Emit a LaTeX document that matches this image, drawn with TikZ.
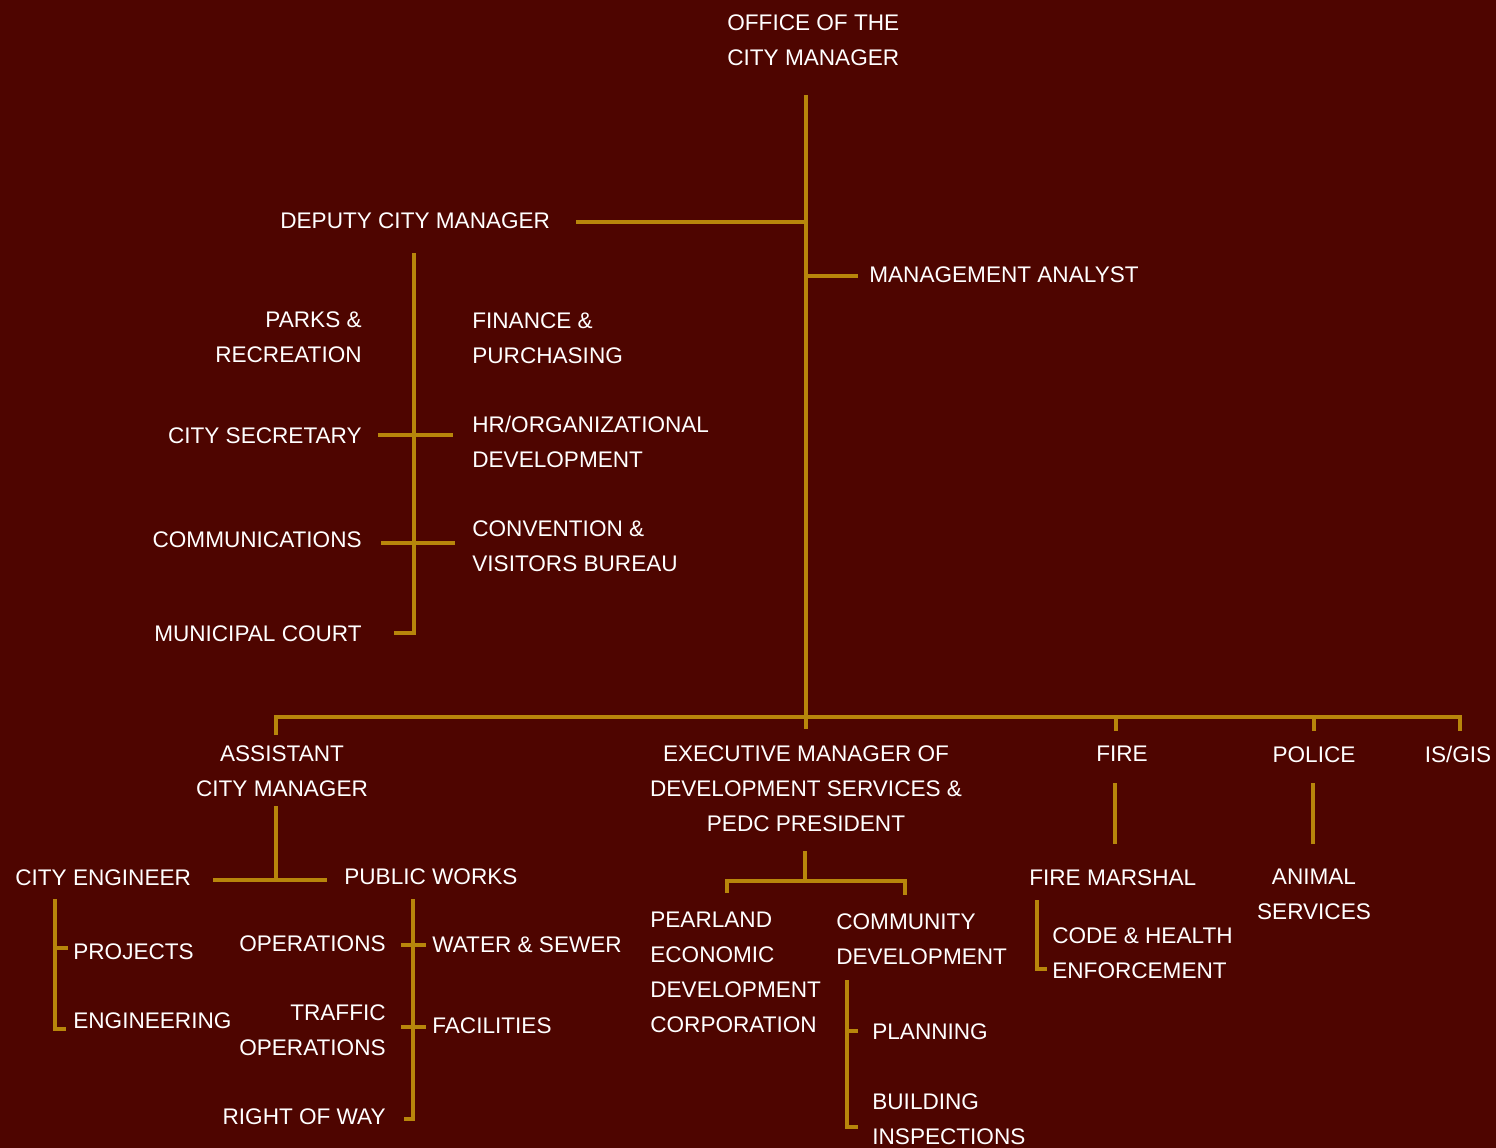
\documentclass[tikz,border=0pt]{standalone}
\usepackage{fontspec}
\setmainfont{Liberation Sans}
\definecolor{maroon}{RGB}{78,5,0}
\definecolor{gold}{RGB}{184,134,11}
\begin{document}
\begin{tikzpicture}[x=0.02cm,y=-0.02cm,
  unit/.style={text=white,font=\fontsize{12.85}{19.9}\selectfont,inner sep=0pt,align=left},
  link/.style={draw=gold,line width=2pt}]
\fill[maroon] (0,0) rectangle (1496,1148);
\useasboundingbox (0,0) rectangle (1496,1148);
\node[unit,anchor=north west] (cm) at (727,14) {OFFICE OF THE\\CITY MANAGER};
\node[unit,anchor=north west] (dcm) at (280,212) {DEPUTY CITY MANAGER};
\node[unit,anchor=north west] (ma) at (869,266) {MANAGEMENT ANALYST};
\node[unit,anchor=north east,align=right] (parks) at (362,311) {PARKS \&\\RECREATION};
\node[unit,anchor=north east,align=right] (csec) at (362,427) {CITY SECRETARY};
\node[unit,anchor=north east,align=right] (comm) at (362,531) {COMMUNICATIONS};
\node[unit,anchor=north east,align=right] (court) at (362,625) {MUNICIPAL COURT};
\node[unit,anchor=north west] (fin) at (472,312) {FINANCE \&\\PURCHASING};
\node[unit,anchor=north west] (hr) at (472,416) {HR/ORGANIZATIONAL\\DEVELOPMENT};
\node[unit,anchor=north west] (cvb) at (472,520) {CONVENTION \&\\VISITORS BUREAU};
\node[unit,anchor=north,align=center] (acm) at (282,745) {ASSISTANT\\CITY MANAGER};
\node[unit,anchor=north,align=center] (exec) at (806,745) {EXECUTIVE MANAGER OF\\DEVELOPMENT SERVICES \&\\PEDC PRESIDENT};
\node[unit,anchor=north] (fire) at (1122,746) {FIRE};
\node[unit,anchor=north] (police) at (1314,746) {POLICE};
\node[unit,anchor=north] (gis) at (1458,746) {IS/GIS};
\node[unit,anchor=north west] (marshal) at (1029,869) {FIRE MARSHAL};
\node[unit,anchor=north,align=center] (animal) at (1314,869) {ANIMAL\\SERVICES};
\node[unit,anchor=north west] (code) at (1052,927) {CODE \& HEALTH\\ENFORCEMENT};
\node[unit,anchor=north west] (ceng) at (15,869) {CITY ENGINEER};
\node[unit,anchor=north west] (pw) at (344,868) {PUBLIC WORKS};
\node[unit,anchor=north west] (proj) at (73,943) {PROJECTS};
\node[unit,anchor=north west] (eng) at (73,1012) {ENGINEERING};
\node[unit,anchor=north east,align=right] (ops) at (386,935) {OPERATIONS};
\node[unit,anchor=north east,align=right] (traffic) at (386,1004) {TRAFFIC\\OPERATIONS};
\node[unit,anchor=north east,align=right] (row) at (386,1108) {RIGHT OF WAY};
\node[unit,anchor=north west] (water) at (432,936) {WATER \& SEWER};
\node[unit,anchor=north west] (fac) at (432,1017) {FACILITIES};
\node[unit,anchor=north west] (pedc) at (650,912) {PEARLAND\\ECONOMIC\\DEVELOPMENT\\CORPORATION};
\node[unit,anchor=north west] (cd) at (836,913) {COMMUNITY\\DEVELOPMENT};
\node[unit,anchor=north west] (plan) at (872,1023) {PLANNING};
\node[unit,anchor=north west] (bld) at (872,1093) {BUILDING\\INSPECTIONS};
% city manager trunk and staff
\coordinate (trunktop) at (806,95);
\coordinate (trunkend) at (806,729);
\coordinate (dcmend) at (576,222);
\coordinate (dcmjoin) at (806,222);
\coordinate (majoin) at (808,276);
\coordinate (maend) at (858,276);
\draw[link] (trunktop) -- (trunkend);
\draw[link] (dcmend) -- (dcmjoin);
\draw[link] (majoin) -- (maend);
% deputy city manager departments
\coordinate (deptop) at (414,253);
\coordinate (depbot) at (414,633);
\coordinate (courtend) at (394,633);
\coordinate (csecL) at (378,435);
\coordinate (csecR) at (453,435);
\coordinate (commL) at (381,543);
\coordinate (commR) at (455,543);
\draw[link] (deptop) -- (depbot) -- (courtend);
\draw[link] (csecL) -- (csecR);
\draw[link] (commL) -- (commR);
% bus
\coordinate (busL) at (276,717);
\coordinate (busR) at (1460,717);
\coordinate (acmdrop) at (276,735);
\coordinate (gisdrop) at (1460,731);
\coordinate (fireA) at (1116,717);
\coordinate (fireB) at (1116,731);
\coordinate (polA) at (1314,717);
\coordinate (polB) at (1314,731);
\draw[link] (acmdrop) -- (busL) -- (busR) -- (gisdrop);
\draw[link] (fireA) -- (fireB);
\draw[link] (polA) -- (polB);
% fire and police
\coordinate (fireC) at (1115,783);
\coordinate (fireD) at (1115,844);
\coordinate (polC) at (1313,783);
\coordinate (polD) at (1313,844);
\coordinate (codetop) at (1037,900);
\coordinate (codebot) at (1037,969);
\coordinate (codeend) at (1047,969);
\draw[link] (fireC) -- (fireD);
\draw[link] (polC) -- (polD);
\draw[link] (codetop) -- (codebot) -- (codeend);
% assistant city manager
\coordinate (acmtop) at (276,806);
\coordinate (acmjoin) at (276,880);
\coordinate (acmL) at (213,880);
\coordinate (acmR) at (327,880);
\draw[link] (acmtop) -- (acmjoin);
\draw[link] (acmL) -- (acmR);
\coordinate (engtop) at (55,899);
\coordinate (engbot) at (55,1029);
\coordinate (engend) at (66,1029);
\coordinate (projA) at (55,948);
\coordinate (projB) at (68,948);
\draw[link] (engtop) -- (engbot) -- (engend);
\draw[link] (projA) -- (projB);
\coordinate (pwtop) at (413,899);
\coordinate (pwbot) at (413,1119);
\coordinate (rowend) at (404,1119);
\coordinate (opsL) at (401,945);
\coordinate (opsR) at (426,945);
\coordinate (traL) at (401,1027);
\coordinate (traR) at (426,1027);
\draw[link] (pwtop) -- (pwbot) -- (rowend);
\draw[link] (opsL) -- (opsR);
\draw[link] (traL) -- (traR);
% development services
\coordinate (exectop) at (805,851);
\coordinate (execjoin) at (805,881);
\coordinate (pedcdrop) at (727,893);
\coordinate (pedcjoin) at (727,881);
\coordinate (cdjoin) at (905,881);
\coordinate (cddrop) at (905,895);
\draw[link] (exectop) -- (execjoin);
\draw[link] (pedcdrop) -- (pedcjoin) -- (cdjoin) -- (cddrop);
\coordinate (cdtop) at (847,980);
\coordinate (cdbot) at (847,1127);
\coordinate (bldend) at (858,1127);
\coordinate (planA) at (847,1031);
\coordinate (planB) at (858,1031);
\draw[link] (cdtop) -- (cdbot) -- (bldend);
\draw[link] (planA) -- (planB);
\end{tikzpicture}
\end{document}
